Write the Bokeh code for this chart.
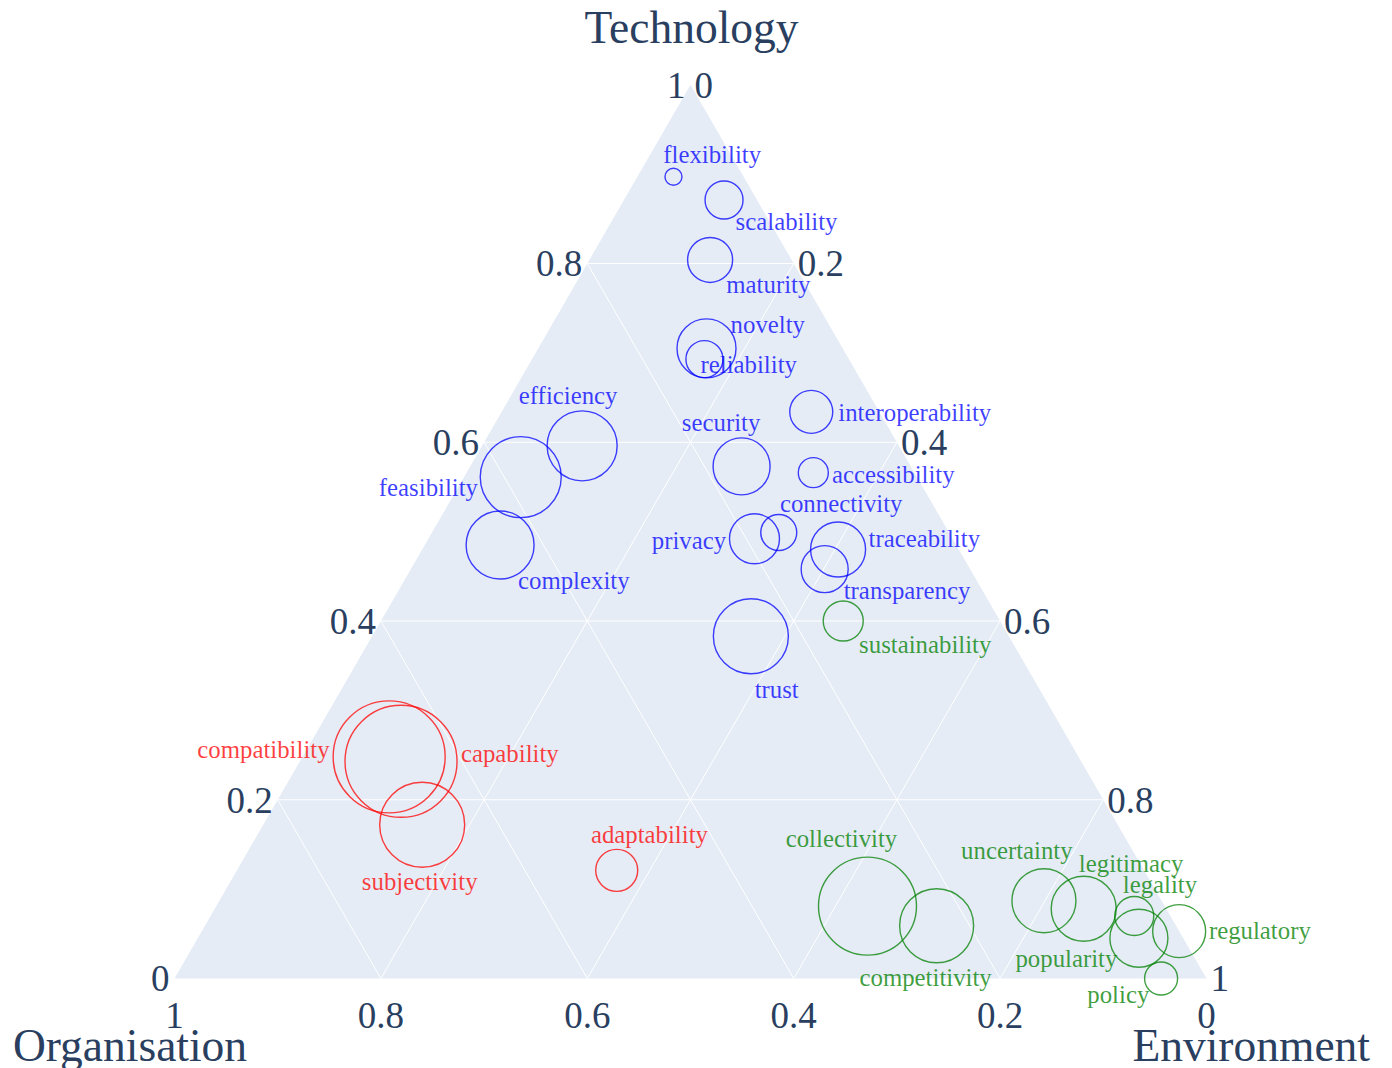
import numpy as np
from bokeh.plotting import figure
from bokeh.models import Range1d, ColumnDataSource
from bokeh.embed import file_html
from bokeh.resources import INLINE
from bokeh.core.properties import value

# ---------------- data ----------------
names = ["flexibility", "scalability", "maturity", "novelty", "reliability",
         "efficiency", "feasibility", "complexity", "interoperability", "security",
         "accessibility", "privacy", "connectivity", "traceability", "transparency",
         "trust", "sustainability", "compatibility", "capability", "subjectivity",
         "adaptability", "collectivity", "competitivity", "uncertainty", "legitimacy",
         "legality", "popularity", "regulatory", "policy"]
technology = [0.897, 0.871, 0.804, 0.705, 0.693, 0.596, 0.561, 0.485, 0.634, 0.573,
              0.566, 0.492, 0.499, 0.480, 0.458, 0.383, 0.400, 0.248, 0.243, 0.172,
              0.121, 0.081, 0.059, 0.087, 0.078, 0.070, 0.045, 0.053, 0.000]
organisation = [0.068, 0.032, 0.079, 0.132, 0.140, 0.307, 0.384, 0.442, 0.066, 0.164,
                0.098, 0.192, 0.165, 0.117, 0.141, 0.250, 0.152, 0.668, 0.659, 0.674,
                0.511, 0.288, 0.232, 0.114, 0.080, 0.035, 0.043, 0.000, 0.044]
environment = [0.035, 0.097, 0.117, 0.163, 0.167, 0.097, 0.055, 0.073, 0.300, 0.263,
               0.336, 0.316, 0.336, 0.403, 0.401, 0.367, 0.448, 0.084, 0.098, 0.154,
               0.368, 0.631, 0.709, 0.799, 0.842, 0.895, 0.912, 0.947, 0.956]
weights = [17, 38, 45, 59, 37, 70, 81, 68, 43, 57, 30, 50, 36, 55, 47, 75, 40,
           112, 112, 85, 42, 98, 74, 64, 65, 39, 58, 53, 33]
groups = ["T"] * 16 + ["E"] + ["O"] * 4 + ["E"] * 8

tick_values = [0, 0.2, 0.4, 0.6, 0.8, 1]
tick_labels = ["0", "0.2", "0.4", "0.6", "0.8", "1"]
axis_titles = ["Technology", "Organisation", "Environment"]

# ---------------- styles ----------------
group_colors = {"T": "blue", "O": "red", "E": "green"}
# label offsets in screen pixels (text centre, baseline)
label_dx = [38.7, 62.5, 58.2, 61.3, 44.3, -14, -92.3, 73.7, 103.5, -20.5, 80, -65.5,
            62.5, 86.2, 82.4, 25.8, 82, -125.7, 108.8, -2.5, 32.7, -26, -11, -27.1,
            47.5, 25.7, -72.5, 80.7, -42.8]
label_dy = [-14, 30, 33, -15.6, 13.4, -42, 18.3, 44, 9, -36, 10, 9.7, -21.3, -3,
            29.3, 61.3, 31.4, 1, 0, 65.3, -28, -59.3, 60.3, -41.7, -37, -23, 28.7,
            7.3, 24.3]

S3 = np.sqrt(3) / 2
SCALE = 1032.0  # px per unit
W, H = 1392, 1068
LEFT_PX, BOTTOM_PX = 174.0, 90.0
BL = 0.33  # baseline correction (fraction of font size)

FONT = value("Liberation Serif")
AXCOL = "#2a3f5f"
F_LAB, F_TICK, F_TITLE = 24.8, 37, 45.5


def to_xy(t, o, e):
    t = np.asarray(t, float)
    o = np.asarray(o, float)
    e = np.asarray(e, float)
    s = t + o + e
    t, e = t / s, e / s
    return e + t / 2, t * S3


p = figure(width=W, height=H, output_backend="svg", toolbar_location=None,
           x_axis_location=None, y_axis_location=None, min_border=0,
           x_range=Range1d(-LEFT_PX / SCALE, (W - LEFT_PX) / SCALE),
           y_range=Range1d(-BOTTOM_PX / SCALE, (H - BOTTOM_PX) / SCALE),
           background_fill_color="white", border_fill_color="white",
           outline_line_color=None)
p.grid.visible = False

# triangle background
p.patch(x=[0, 1, 0.5], y=[0, 0, S3], fill_color="#E5ECF6", line_color=None)

# grid lines
gx, gy = [], []
for v in tick_values[1:-1]:
    a = to_xy([v], [1 - v], [0]); b = to_xy([v], [0], [1 - v])
    gx.append([a[0][0], b[0][0]]); gy.append([a[1][0], b[1][0]])
    a = to_xy([0], [v], [1 - v]); b = to_xy([1 - v], [v], [0])
    gx.append([a[0][0], b[0][0]]); gy.append([a[1][0], b[1][0]])
    a = to_xy([0], [1 - v], [v]); b = to_xy([1 - v], [0], [v])
    gx.append([a[0][0], b[0][0]]); gy.append([a[1][0], b[1][0]])
p.multi_line(xs=gx, ys=gy, line_color="white", line_width=1)

# tick labels
tv = np.array(tick_values)
tick_kw = dict(text_baseline="alphabetic", text_font=FONT,
               text_font_size=value(f"{F_TICK}px"), text_color=AXCOL)
lx, ly = to_xy(tv, 1 - tv, np.zeros_like(tv))
p.text(x=lx, y=ly, text=tick_labels, x_offset=-5, y_offset=12.5 - BL * F_TICK,
       text_align="right", **tick_kw)
rx, ry = to_xy(1 - tv, np.zeros_like(tv), tv)
p.text(x=rx, y=ry, text=tick_labels, x_offset=4, y_offset=12.5 - BL * F_TICK,
       text_align="left", **tick_kw)
bx, by = to_xy(np.zeros_like(tv), tv, 1 - tv)
p.text(x=bx, y=by, text=tick_labels, x_offset=0, y_offset=49 - BL * F_TICK,
       text_align="center", **tick_kw)

# axis titles at corners
cx, cy = to_xy([1, 0, 0], [0, 1, 0], [0, 0, 1])
p.text(x=cx, y=cy, text=axis_titles, x_offset=[1, -44.5, 44.7],
       y_offset=[-42 - BL * F_TITLE, 82.5 - BL * F_TITLE, 82 - BL * F_TITLE],
       text_align="center", text_baseline="alphabetic",
       text_font=FONT, text_font_size=value(f"{F_TITLE}px"), text_color=AXCOL)

# points
px_, py_ = to_xy(technology, organisation, environment)
colors = [group_colors[g] for g in groups]
src = ColumnDataSource(dict(x=px_, y=py_, size=weights, color=colors, name=names,
                            dx=label_dx, dy=[d - BL * F_LAB for d in label_dy]))
p.scatter(x="x", y="y", size="size", source=src, marker="circle",
          fill_color=None, line_color="color", line_alpha=0.75, line_width=1.4)
p.text(x="x", y="y", text="name", x_offset="dx", y_offset="dy", source=src,
       text_align="center", text_baseline="alphabetic", text_font=FONT,
       text_font_size=value(f"{F_LAB}px"), text_color="color", text_alpha=0.75)

open("out.html", "w").write(file_html(p, INLINE))
